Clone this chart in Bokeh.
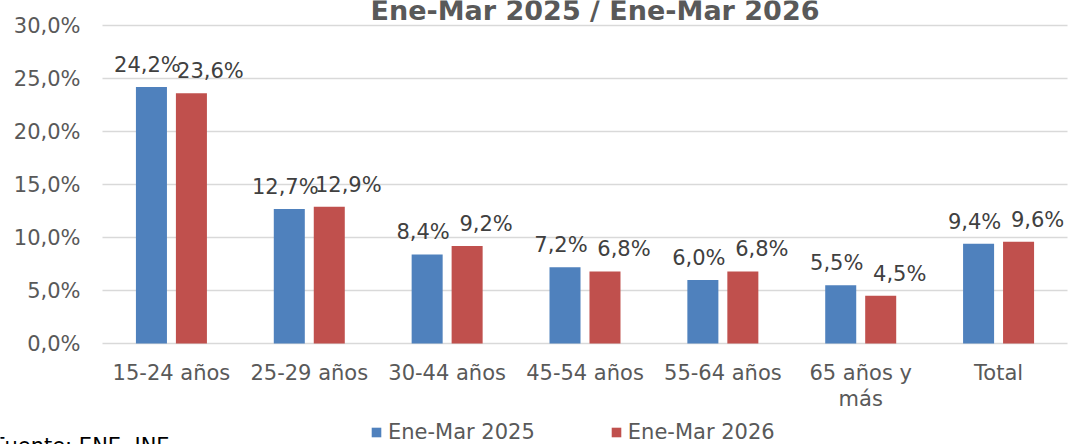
from bokeh.plotting import figure
from bokeh.models import (ColumnDataSource, Range1d, LabelSet, Label, Legend, LegendItem)
from bokeh.core.properties import value
from bokeh.transform import dodge
from bokeh.embed import file_html
from bokeh.resources import INLINE

# ---- data ----
categories = ["15-24 años", "25-29 años", "30-44 años", "45-54 años",
              "55-64 años", "65 años y\nmás", "Total"]
ene_mar_2025 = [24.2, 12.7, 8.4, 7.2, 6.0, 5.5, 9.4]
ene_mar_2026 = [23.6, 12.9, 9.2, 6.8, 6.8, 4.5, 9.6]
series_names = ["Ene-Mar 2025", "Ene-Mar 2026"]
y_ticks = [0, 5, 10, 15, 20, 25, 30]
y_tick_labels = ["0,0%", "5,0%", "10,0%", "15,0%", "20,0%", "25,0%", "30,0%"]
title_text = "Ene-Mar 2025 / Ene-Mar 2026"
source_text = "Fuente: ENE, INE"

def fmt(v):
    return f"{v:.1f}".replace(".", ",") + "%"

n = len(categories)
src = ColumnDataSource(dict(
    xc=[i + 0.5 for i in range(n)],          # category slot centres
    line1=[c.split("\n")[0] for c in categories],
    line2=[c.split("\n")[1] if "\n" in c else "" for c in categories],
    a=ene_mar_2025,
    b=ene_mar_2026,
    la=[fmt(v) for v in ene_mar_2025],
    lb=[fmt(v) for v in ene_mar_2026],
))
tick_src = ColumnDataSource(dict(y=y_ticks, label=y_tick_labels,
                                 x0=[0] * len(y_ticks), x1=[n] * len(y_ticks)))

FONT = "DejaVu Sans"
GRAY = "#595959"
BLUE = "#4F81BD"
RED = "#C0504D"

W, H = 1074, 444
# plot area in pixels: left 102, right 1067, value 30 at 25px, value 0 at 343px
PX_X = (1067 - 102) / n
PX_Y = (343 - 25) / 30.0
x_rng = Range1d(-102 / PX_X, n + (W - 1067) / PX_X)
y_rng = Range1d(-(H - 343) / PX_Y, 30 + 25 / PX_Y)

p = figure(width=W, height=H, output_backend="svg", toolbar_location=None,
           x_range=x_rng, y_range=y_rng, min_border=0)
p.outline_line_color = None
p.background_fill_color = "white"
p.border_fill_color = "white"
p.xaxis.visible = False
p.yaxis.visible = False
p.xgrid.visible = False
p.ygrid.visible = False

# gridlines at the value ticks, across the category span
p.segment(x0="x0", x1="x1", y0="y", y1="y", source=tick_src,
          line_color="#D9D9D9", line_width=1.5)

BW = 0.225
OFF = 0.145
r1 = p.vbar(x=dodge("xc", -OFF), top="a", width=BW, source=src,
            fill_color=BLUE, line_color=None)
r2 = p.vbar(x=dodge("xc", OFF), top="b", width=BW, source=src,
            fill_color=RED, line_color=None)

# y tick labels
p.add_layout(LabelSet(x="x0", y="y", text="label", source=tick_src, x_offset=-22,
                      text_align="right", text_baseline="middle",
                      text_font=value(FONT), text_font_size=value("21px"),
                      text_color=GRAY))

# category labels, two lines where needed, each centred
for col, dy in (("line1", -17), ("line2", -43)):
    p.add_layout(LabelSet(x="xc", y=0, text=col, source=src, y_offset=dy,
                          text_align="center", text_baseline="top",
                          text_font=value(FONT), text_font_size=value("21px"),
                          text_color=GRAY))

# data labels
for col, lab, off, dx in (("a", "la", -OFF, -4), ("b", "lb", OFF, 19)):
    p.add_layout(LabelSet(x=dodge("xc", off), y=col, text=lab,
                          source=src, x_offset=dx, y_offset=22,
                          text_align="center", text_baseline="middle",
                          text_font=value(FONT), text_font_size=value("21px"),
                          text_color="#404040"))

# title
p.add_layout(Label(x=n / 2, y=30, x_offset=10, y_offset=15, text=title_text,
                   text_align="center", text_baseline="middle",
                   text_font=FONT, text_font_size="27px", text_font_style="bold",
                   text_color=GRAY))

# source note
p.add_layout(Label(x=0, y=0, x_offset=-109, y_offset=-102, text=source_text,
                   text_align="left", text_baseline="middle",
                   text_font=FONT, text_font_size="21px", text_color="black"))

legend = Legend(items=[LegendItem(label=series_names[0], renderers=[r1]),
                       LegendItem(label=series_names[1], renderers=[r2])],
                orientation="horizontal", location=(370, 0),
                glyph_width=12, glyph_height=12, label_standoff=6, spacing=75,
                padding=0, margin=0, border_line_color=None,
                background_fill_alpha=0,
                label_text_font=FONT, label_text_font_size="21px",
                label_text_color=GRAY)
p.add_layout(legend, "center")

open("out.html", "w").write(file_html(p, INLINE))
